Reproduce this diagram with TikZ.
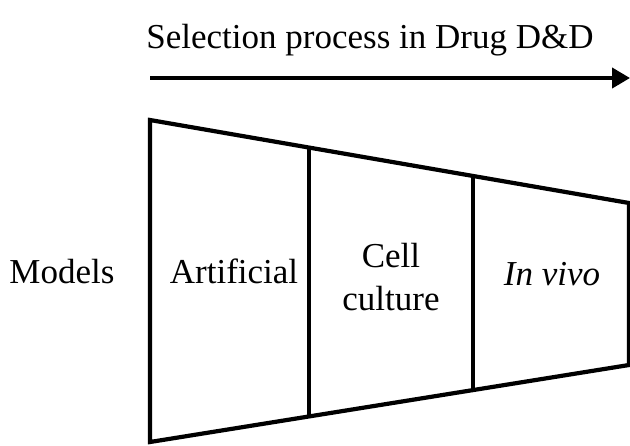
\documentclass[tikz,border=0pt]{standalone}
\usepackage{fontspec}
\setmainfont{Liberation Serif}
\usetikzlibrary{arrows.meta}

\begin{document}
\begin{tikzpicture}[x=0.5pt, y=-0.5pt, line width=2.1pt,
  every node/.style={font=\fontsize{17.5}{21.5}\selectfont, inner sep=0pt}]
	\useasboundingbox (0,0) rectangle (630,445);
	% title and arrow
	\node[anchor=base] (title) at (370,48) {Selection process in Drug D\&D};
	\coordinate (start) at (150,78);
	\coordinate (stop) at (630,78);
	\draw[-{Triangle[length=9pt,width=10pt]}] (start) -- (stop);

	% funnel
	\draw[line join=miter] (150,120) -- (629,203) -- (629,365) -- (150,442) -- cycle;
	\draw (309,147.5) -- (309,416.5);
	\draw (473,176) -- (473,390);

	% labels
	\node[anchor=base] (models) at (62,283) {Models};
	\node[anchor=base] (artificial) at (234,283) {Artificial};
	\node[anchor=base, align=center] (cell) at (391,310) {Cell\\culture};
	\node[anchor=base] (invivo) at (552,285) {\textit{In vivo}};
\end{tikzpicture}
\end{document}
